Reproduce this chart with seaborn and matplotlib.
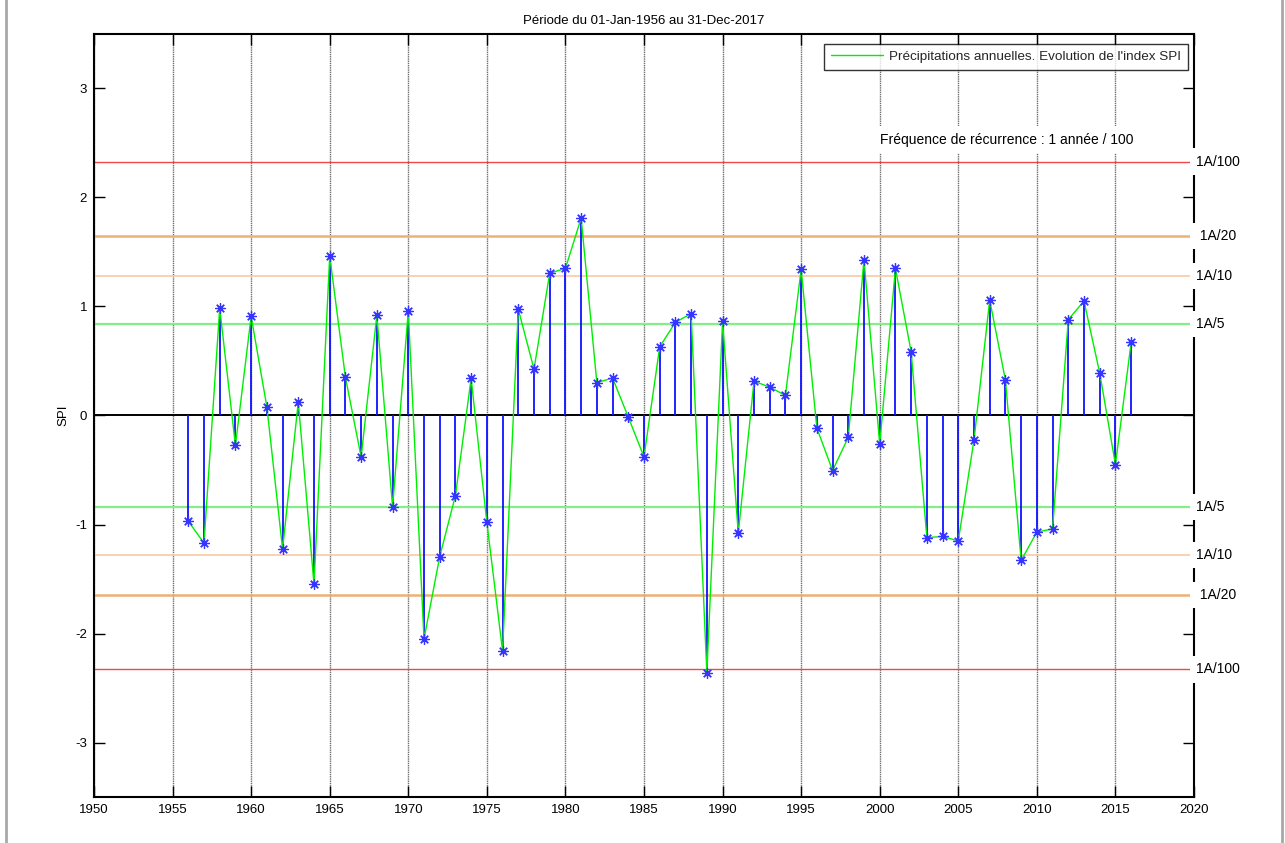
import numpy as np
import pandas as pd
import matplotlib
matplotlib.use("Agg")
import matplotlib.pyplot as plt
import seaborn as sns
from matplotlib.lines import Line2D

# ---------------- data ----------------
years = list(range(1956, 2017))
spi = [
    -0.97, -1.17, 0.985, -0.275, 0.91, 0.08, -1.225, 0.125, -1.55, 1.465,   # 1956-1965
    0.35, -0.38, 0.92, -0.84, 0.96, -2.05, -1.295, -0.735, 0.34, -0.98,     # 1966-1975
    -2.16, 0.975, 0.425, 1.305, 1.35, 1.81, 0.30, 0.345, -0.015, -0.38,     # 1976-1985
    0.63, 0.855, 0.935, -2.36, 0.865, -1.08, 0.315, 0.26, 0.185, 1.34,      # 1986-1995
    -0.115, -0.505, -0.20, 1.43, -0.265, 1.35, 0.585, -1.12, -1.11, -1.15,  # 1996-2005
    -0.225, 1.06, 0.325, -1.33, -1.07, -1.04, 0.88, 1.05, 0.39, -0.45,      # 2006-2015
    0.67,                                                                   # 2016
]
threshold_values = [2.33, 1.645, 1.28, 0.84]
threshold_labels = ["1A/100", " 1A/20", "1A/10", "1A/5"]
threshold_colors = ["#f04848", "#ecb274", "#f8caa4", "#86ee86"]
threshold_widths = [1.0, 1.8, 1.2, 1.6]
x_ticks = list(range(1950, 2021, 5))
y_ticks = [-3, -2, -1, 0, 1, 2, 3]
title = "Période du 01-Jan-1956 au 31-Dec-2017"
legend_label = "Précipitations annuelles. Evolution de l'index SPI"
note = "Fréquence de récurrence : 1 année / 100"

df = pd.DataFrame({"year": years, "spi": spi})

# ---------------- style ----------------
sns.set_theme(style="white")
plt.rcParams["font.family"] = ["Liberation Sans", "DejaVu Sans"]
FS = 9.5
FS_BIG = 10

W, H = 1285, 843
fig = plt.figure(figsize=(W / 100, H / 100), dpi=100)
fig.patch.set_facecolor("white")
ax = fig.add_axes([94 / W, 1 - 797 / H, 1100 / W, 763 / H])
ax.set_facecolor("white")

ax.set_xlim(1950, 2020)
ax.set_ylim(-3.5, 3.5)

# vertical dotted grid
for xv in x_ticks:
    ax.axvline(xv, color="#6e6e6e", lw=1.0, ls=(0, (1.0, 0.6)), zorder=0.5)

# threshold lines
for v, c, lw in zip(threshold_values, threshold_colors, threshold_widths):
    ax.axhline(v, color=c, lw=lw, zorder=1)
    ax.axhline(-v, color=c, lw=lw, zorder=1)

# zero line
ax.axhline(0, color="black", lw=1.4, zorder=2)

# stems
ax.vlines(df["year"], 0, df["spi"], color="#1010ff", lw=1.3, zorder=3)

# green line through the points (seaborn)
sns.lineplot(data=df, x="year", y="spi", color="#00ee00", lw=1.0,
             label=legend_label, ax=ax, zorder=4)

# asterisk markers
ax.plot(df["year"], df["spi"], ls="none", marker=(8, 2, 0), ms=7.5,
        mec="#3535ff", mew=0.9, zorder=5)

# threshold labels on right, covering the spine
for v, lab in zip(threshold_values, threshold_labels):
    for sgn in (1, -1):
        ax.text(2020.13, sgn * v, lab, ha="left", va="center", fontsize=FS_BIG,
                color="black", clip_on=False, zorder=10,
                bbox=dict(boxstyle="square,pad=0.45", fc="white", ec="none"))

# recurrence note
ax.text(2000.0, 2.53, note, ha="left", va="center", fontsize=FS_BIG,
        color="black", zorder=6,
        bbox=dict(boxstyle="square,pad=0.45", fc="white", ec="none"))

# ticks / spines
ax.set_xticks(x_ticks)
ax.set_yticks(y_ticks)
ax.set_xticklabels([str(t) for t in x_ticks])
ax.set_yticklabels([str(t) for t in y_ticks])
ax.tick_params(axis="both", which="both", direction="in", length=8, width=1,
               top=True, right=True, bottom=True, left=True,
               labelsize=FS, colors="black", pad=5)
for s in ax.spines.values():
    s.set_color("black")
    s.set_linewidth(1.5)
    s.set_zorder(8)

ax.set_xlabel("")
ax.set_ylabel("SPI", fontsize=FS, color="black", labelpad=4)
ax.set_title(title, fontsize=FS, color="black", pad=7)

leg = ax.legend(loc="upper right", bbox_to_anchor=(1 - 6 / 1100, 1 - 10 / 763),
                borderaxespad=0, frameon=True, fancybox=False, fontsize=9.7,
                handlelength=3.9, handletextpad=0.45, borderpad=0.5)
leg.get_frame().set_edgecolor("black")
leg.get_frame().set_linewidth(1.0)
leg.set_zorder(12)

# figure side borders
fig.add_artist(Line2D([6 / W, 6 / W], [0, 1], transform=fig.transFigure,
                      color="#a8a8a8", lw=2))
fig.add_artist(Line2D([1282 / W, 1282 / W], [0, 1], transform=fig.transFigure,
                      color="#a8a8a8", lw=2))

fig.savefig("out.png", dpi=100, facecolor="white")
